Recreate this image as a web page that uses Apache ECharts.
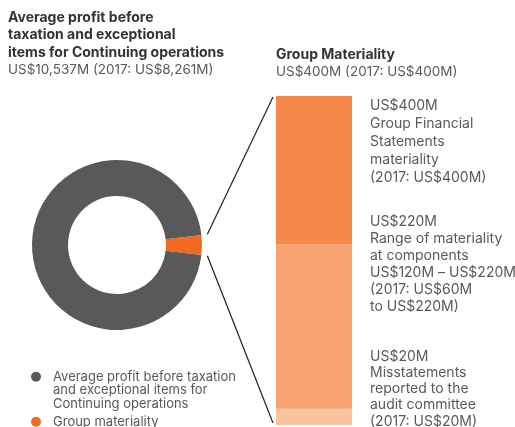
<!DOCTYPE html>
<html>
<head>
<meta charset="utf-8">
<script src="https://cdn.jsdelivr.net/npm/echarts@6/dist/echarts.min.js"></script>
<style>
  html, body { margin: 0; padding: 0; background: #ffffff; }
  #chart { width: 515px; height: 427px; }
</style>
</head>
<body>
<div id="chart"></div>
<script>
// Donut: average profit with the Group materiality slice (US$M)
const profitTotal = 10537;
const groupMateriality = 400;
const profitName = 'Average profit before taxation and exceptional items for Continuing operations';
const materialityName = 'Group materiality';
// Two leading blank lines keep the legend marker level with the first text line
const legendText = {
  'Average profit before taxation and exceptional items for Continuing operations':
    '\n\nAverage profit before taxation\nand exceptional items for\nContinuing operations',
  'Group materiality': 'Group materiality'
};

// Materiality thresholds (US$M), drawn as overlapping bars
const levelValues = [400, 220, 20];
const levelColors = ['#f5884a', '#f7a26f', '#f9c39d'];
const levelLabels = [
  'US$400M\nGroup Financial\nStatements\nmateriality\n(2017: US$400M)',
  'US$220M\nRange of materiality\nat components\nUS$120M \u2013 US$220M\n(2017: US$60M\nto US$220M)',
  'US$20M\nMisstatements\nreported to the\naudit committee\n(2017: US$20M)'
];

const FONT = 'Inter, "Noto Sans", sans-serif';
const GREY = '#58595b';
const ORANGE = '#f26a21';

// Donut geometry
const donutCenter = [117, 245];
const donutRadius = [49, 85];
// Bar column geometry
const barLeft = 276, barWidth = 76, barTop = 96, barBottom = 2;

const sliceAngle = groupMateriality / profitTotal * 360;

const chart = echarts.init(document.getElementById('chart'), null, { renderer: 'canvas' });

const labelOffsets = [[94, 1], [94, -31], [94, -60]];
const labelLineHeights = [18, 17, 16.2];

const barSeries = levelValues.map((v, i) => ({
  type: 'bar',
  name: 'level' + i,
  data: [v],
  barWidth: '100%',
  barGap: '-100%',
  itemStyle: { color: levelColors[i] },
  silent: true,
  z: 2 + i,
  label: {
    show: true,
    position: 'insideTopLeft',
    distance: 0,
    offset: labelOffsets[i],
    formatter: levelLabels[i],
    color: GREY,
    fontFamily: FONT,
    fontSize: 14,
    lineHeight: labelLineHeights[i],
    align: 'left',
    verticalAlign: 'top'
  }
}));

chart.setOption({
  animation: false,
  title: [
    {
      text: 'Average profit before\ntaxation and exceptional\nitems for Continuing operations',
      subtext: 'US$10,537M (2017: US$8,261M)',
      left: 8, top: 9, padding: 0, itemGap: 0,
      textStyle: { fontFamily: FONT, fontSize: 14, fontWeight: 'bold', color: '#333333', lineHeight: 17.5 },
      subtextStyle: { fontFamily: FONT, fontSize: 13.5, color: GREY, lineHeight: 17.5 }
    },
    {
      text: 'Group Materiality',
      subtext: 'US$400M (2017: US$400M)',
      left: 276, top: 46, padding: 0, itemGap: 0,
      textStyle: { fontFamily: FONT, fontSize: 14, fontWeight: 'bold', color: '#333333', lineHeight: 17.5 },
      subtextStyle: { fontFamily: FONT, fontSize: 13.5, color: GREY, lineHeight: 17.5 }
    }
  ],
  legend: [
    {
      data: [profitName],
      orient: 'vertical',
      left: 31, top: 343, padding: 0,
      icon: 'circle', itemWidth: 10, itemHeight: 10,
      formatter: n => legendText[n],
      selectedMode: false,
      textStyle: { fontFamily: FONT, fontSize: 13, color: GREY, lineHeight: 13.5, padding: [0, 0, 0, 7] }
    },
    {
      data: [materialityName],
      orient: 'vertical',
      left: 31, top: 415, padding: 0,
      icon: 'circle', itemWidth: 10, itemHeight: 10,
      formatter: n => legendText[n],
      selectedMode: false,
      textStyle: { fontFamily: FONT, fontSize: 13, color: GREY, lineHeight: 13.5, padding: [0, 0, 0, 7] }
    }
  ],
  grid: { left: barLeft, width: barWidth, top: barTop, bottom: barBottom, containLabel: false },
  xAxis: { type: 'category', data: ['materiality'], show: false, boundaryGap: true },
  yAxis: { type: 'value', min: 0, max: 400, show: false },
  series: [
    {
      type: 'pie',
      center: donutCenter,
      radius: donutRadius,
      startAngle: sliceAngle / 2,
      clockwise: true,
      silent: true,
      label: { show: false },
      labelLine: { show: false },
      data: [
        { name: materialityName, value: groupMateriality, itemStyle: { color: ORANGE } },
        { name: profitName, value: profitTotal - groupMateriality, itemStyle: { color: GREY } }
      ]
    }
  ].concat(barSeries)
});

// Connector lines from the materiality slice to the top and bottom of the column
const topPt = chart.convertToPixel({ gridIndex: 0 }, [0, levelValues[0]]);
const basePt = chart.convertToPixel({ gridIndex: 0 }, [0, 0]);
const colLeft = topPt[0] - barWidth / 2 - 3;
const reach = donutRadius[1] + 6;
const a = sliceAngle / 2 * Math.PI / 180;
const upperStart = [donutCenter[0] + reach * Math.cos(a), donutCenter[1] - reach * Math.sin(a)];
const lowerStart = [donutCenter[0] + reach * Math.cos(a), donutCenter[1] + reach * Math.sin(a)];

chart.setOption({
  graphic: [
    {
      type: 'line', silent: true,
      shape: { x1: upperStart[0], y1: upperStart[1], x2: colLeft, y2: topPt[1] + 1 },
      style: { stroke: '#231f20', lineWidth: 1.2 }
    },
    {
      type: 'line', silent: true,
      shape: { x1: lowerStart[0], y1: lowerStart[1], x2: colLeft, y2: basePt[1] - 2 },
      style: { stroke: '#231f20', lineWidth: 1.2 }
    }
  ]
});
</script>
</body>
</html>
